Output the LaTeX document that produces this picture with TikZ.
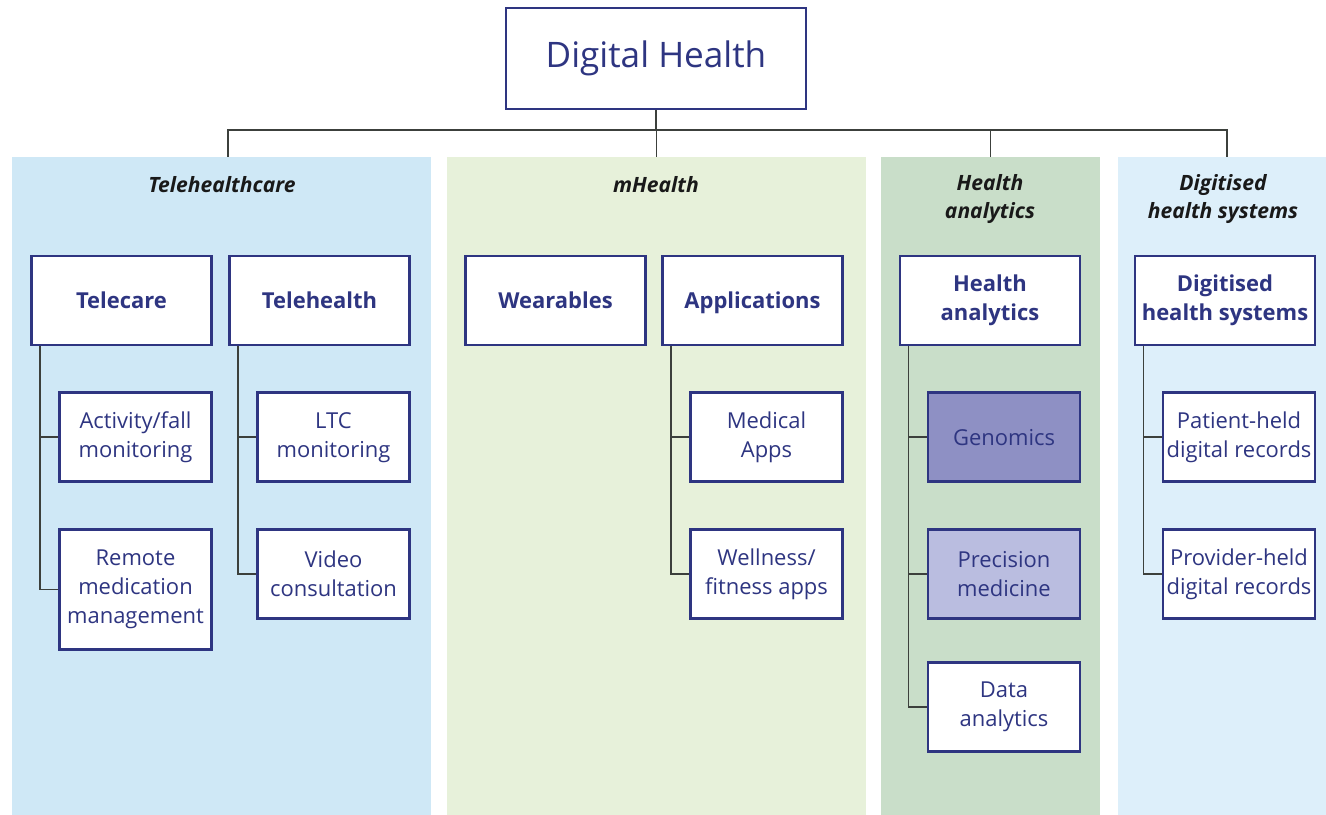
\documentclass[tikz,border=0pt]{standalone}
\usepackage{fontspec}
\setmainfont{Open Sans}
\usetikzlibrary{
    positioning,
    backgrounds
    }

\definecolor{navy}{HTML}{2E3581}
\definecolor{wire}{HTML}{3C403C}
\definecolor{telebg}{HTML}{CFE8F6}
\definecolor{mobbg}{HTML}{E7F1DA}
\definecolor{analbg}{HTML}{C9DEC9}
\definecolor{digibg}{HTML}{DDEFFA}
\definecolor{genfill}{HTML}{8E90C4}
\definecolor{precfill}{HTML}{BABDE0}

\begin{document}
\begin{tikzpicture}[x=0.02cm, y=-0.02cm]
% chktex-file 8
\tikzset{panel/.style =
        {
            draw=none,
            minimum height=13.16cm,
            inner sep=0cm,
            outer sep=0cm
        }
}

\tikzset{paneltitle/.style =
        {
            align=center,
            text=black!90,
            font=\bfseries\itshape\fontsize{12}{16}\selectfont
        }
}

\tikzset{headbox/.style =
        {
            rectangle,
            draw=navy,
            line width=1.6pt,
            fill=white,
            text=navy,
            align=center,
            inner sep=0cm,
            minimum width=3.6cm,
            minimum height=1.78cm,
            font=\bfseries\fontsize{12.5}{16.5}\selectfont
        }
}

\tikzset{subbox/.style =
        {
            headbox,
            minimum width=3.04cm,
            font=\fontsize{12.5}{16.5}\selectfont
        }
}

\tikzset{trunk/.style = {line width=0.9pt, wire}}
\tikzset{branch/.style = {line width=0.9pt, wire}}

		\useasboundingbox (0,0) rectangle (1326,815);

		\node[headbox, minimum width=6cm, minimum height=2.02cm,
			font=\fontsize{20}{24}\selectfont] (digital) at (656,58.5) {Digital Health};

		\begin{scope}[on background layer]
			\node[panel, fill=telebg, minimum width=8.38cm] (tele) at (221.5,486) {};
			\node[panel, fill=mobbg, minimum width=8.38cm] (mob) at (656.5,486) {};
			\node[panel, fill=analbg, minimum width=4.38cm] (anal) at (990.5,486) {};
			\node[panel, fill=digibg, minimum width=4.16cm] (digi) at (1222,486) {};
		\end{scope}

		\node[paneltitle] (tele-title) at (222,185) {Telehealthcare};
		\node[paneltitle] (mob-title) at (656,185) {mHealth};
		\node[paneltitle] (anal-title) at (990,199) {Health\\analytics};
		\node[paneltitle] (digi-title) at (1223,199) {Digitised\\health systems};

		\coordinate (bus) at (656,130);
		\draw[trunk] (digital.south) -- (bus);
		\foreach \p / \dx in {tele/0.13cm, mob/0cm, anal/0cm, digi/0.1cm}
			\draw[trunk] (bus) -| ([xshift=\dx]\p.north);

		\node[headbox] (telecare) at (121.5,300.5) {Telecare};
		\node[headbox] (telehealth) at (319.5,300.5) {Telehealth};
		\node[headbox] (wearables) at (555.5,300.5) {Wearables};
		\node[headbox] (apps) at (752.5,300.5) {\raisebox{0pt}[\height][0pt]{Applications}};
		\node[headbox] (analytics) at (990,300.5) {Health\\analytics};
		\node[headbox] (digitised) at (1225,300.5) {Digitised\\health systems};

		\begin{scope}[node distance=0.9cm]
			\node[subbox, below=of telecare.south east, anchor=north east] (actfall) {Activity/fall\\monitoring};
			\node[subbox, below=of actfall.south east, anchor=north east, minimum height=2.4cm] (remote) {Remote\\medication\\management};
			\node[subbox, below=of telehealth.south east, anchor=north east] (ltc) {LTC\\monitoring};
			\node[subbox, below=of ltc.south east, anchor=north east] (video) {Video\\consultation};
			\node[subbox, below=of apps.south east, anchor=north east] (medapps) {Medical\\Apps};
			\node[subbox, below=of medapps.south east, anchor=north east] (wellness) {Wellness/\\fitness apps};
			\node[subbox, below=of analytics.south east, anchor=north east, fill=genfill] (genomics) {Genomics};
			\node[subbox, below=of genomics.south east, anchor=north east, fill=precfill] (precision) {Precision\\medicine};
			\node[subbox, below=0.82cm of precision.south east, anchor=north east] (data) {Data\\analytics};
			\node[subbox, below=of digitised.south east, anchor=north east] (patient) {Patient-held\\digital records};
			\node[subbox, below=of patient.south east, anchor=north east] (provider) {Provider-held\\digital records};
		\end{scope}

		\foreach \parent / \kids in
			{telecare/{actfall,remote},
				telehealth/{ltc,video},
				apps/{medapps,wellness},
				analytics/{genomics,precision,data},
				digitised/{patient,provider}}
			\foreach \kid in \kids
				\draw[branch] ([xshift=0.2cm]\parent.south west) |- (\kid.west);

	\end{tikzpicture}
\end{document}
